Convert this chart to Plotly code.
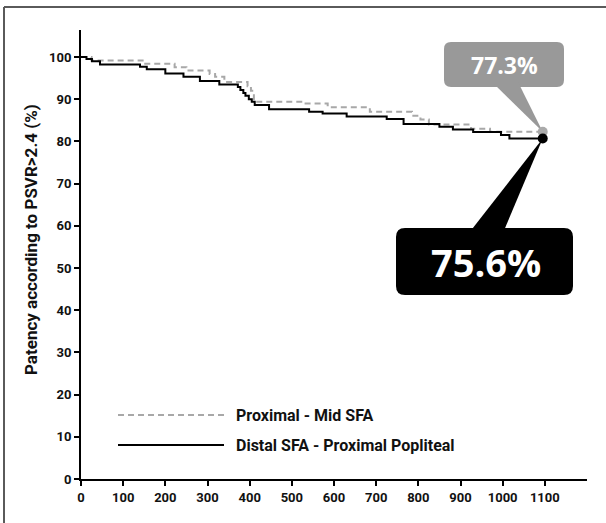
import plotly.graph_objects as go

# ---- data ----
distal_days = [0, 13, 26, 45, 140, 156, 200, 243, 282, 328, 372, 378, 385, 390, 398, 405,
               412, 446, 541, 573, 630, 725, 765, 850, 882, 930, 996, 1016, 1095]
distal_pct = [100, 99.5, 99.0, 98.2, 97.7, 97.1, 96.1, 95.3, 94.3, 93.5, 92.9, 92.2, 91.5, 90.8,
              90.0, 89.4, 88.6, 87.6, 87.0, 86.6, 85.9, 85.3, 84.1, 83.5, 82.8, 82.2, 81.5, 80.7, 80.7]

prox_days = [0, 25, 150, 222, 250, 305, 318, 340, 395, 403, 410, 418, 530, 585, 685, 785,
             805, 825, 925, 970, 1095]
prox_pct = [100, 99.2, 98.4, 97.6, 96.8, 96.0, 95.3, 94.1, 93.1, 92.0, 90.0, 89.4, 89.0, 88.1,
            87.0, 86.1, 85.2, 84.0, 83.0, 82.3, 82.3]

series_names = ["Proximal - Mid SFA", "Distal SFA - Proximal Popliteal"]
callout_labels = ["77.3%", "75.6%"]
x_ticks = list(range(0, 1101, 100))
y_ticks = list(range(0, 101, 10))
y_title = "Patency according to PSVR>2.4 (%)"

# ---- layout geometry ----
W, H = 606, 523
ML, MR, MT, MB = 81, 19, 30, 44
XR = [0, 1200]
YR = [0, 106.4]
pw, ph = W - ML - MR, H - MT - MB


def px2d(X, Y):
    x = XR[0] + (X - ML) / pw * (XR[1] - XR[0])
    y = YR[0] + (H - MB - Y) / ph * (YR[1] - YR[0])
    return x, y


def rrect(x0, y0, x1, y1, r):
    def P(X, Y):
        x, y = px2d(X, Y)
        return f"{x:.3f},{y:.3f}"
    return (f"M{P(x0 + r, y0)} L{P(x1 - r, y0)} Q{P(x1, y0)} {P(x1, y0 + r)} "
            f"L{P(x1, y1 - r)} Q{P(x1, y1)} {P(x1 - r, y1)} L{P(x0 + r, y1)} "
            f"Q{P(x0, y1)} {P(x0, y1 - r)} L{P(x0, y0 + r)} Q{P(x0, y0)} {P(x0 + r, y0)} Z")


def tri(Xa, Xb, Yb, xt, yt):
    a = px2d(Xa, Yb)
    b = px2d(Xb, Yb)
    return f"M{a[0]:.3f},{a[1]:.3f} L{b[0]:.3f},{b[1]:.3f} L{xt:.3f},{yt:.3f} Z"


GRAY = "#a8a8a8"
BOXGRAY = "#999999"
BLACK = "#000000"
TXT = "#111111"

fig = go.Figure()
fig.add_trace(go.Scatter(x=prox_days, y=prox_pct, mode="lines", line_shape="hv",
                         line=dict(color=GRAY, width=2, dash="6px,4px"),
                         name=series_names[0], hoverinfo="skip"))
fig.add_trace(go.Scatter(x=distal_days, y=distal_pct, mode="lines", line_shape="hv",
                         line=dict(color=BLACK, width=2),
                         name=series_names[1], hoverinfo="skip"))
# end points
fig.add_trace(go.Scatter(x=[prox_days[-1]], y=[prox_pct[-1]], mode="markers",
                         marker=dict(color="#aaaaaa", size=10), cliponaxis=False,
                         showlegend=False, hoverinfo="skip"))
fig.add_trace(go.Scatter(x=[distal_days[-1]], y=[distal_pct[-1]], mode="markers",
                         marker=dict(color=BLACK, size=10), cliponaxis=False,
                         showlegend=False, hoverinfo="skip"))

shapes = []
# gray callout
shapes.append(dict(type="path", path=rrect(444, 42, 564, 87, 7), fillcolor=BOXGRAY,
                   line=dict(width=0), layer="below", xref="x", yref="y"))
shapes.append(dict(type="path", path=tri(492, 518, 82, prox_days[-1], prox_pct[-1]),
                   fillcolor=BOXGRAY, line=dict(width=0), layer="below", xref="x", yref="y"))
# black callout
shapes.append(dict(type="path", path=rrect(396, 228, 573, 295, 9), fillcolor=BLACK,
                   line=dict(width=0), layer="below", xref="x", yref="y"))
shapes.append(dict(type="path", path=tri(469, 503, 233, distal_days[-1], distal_pct[-1]),
                   fillcolor=BLACK, line=dict(width=0), layer="below", xref="x", yref="y"))


def pp(X, Y):
    return (X - ML) / pw, (H - MB - Y) / ph

# legend lines
lx0, ly0 = pp(118, 415)
lx1, _ = pp(224, 415)
_, ly1 = pp(118, 445)
shapes.append(dict(type="line", xref="paper", yref="paper", x0=lx0, x1=lx1, y0=ly0, y1=ly0,
                   line=dict(color=GRAY, width=2, dash="6px,4px")))
shapes.append(dict(type="line", xref="paper", yref="paper", x0=lx0, x1=lx1, y0=ly1, y1=ly1,
                   line=dict(color=BLACK, width=2)))
# outer frame (top and left edges)
fx, fy = pp(4, 7)
fxr, _ = pp(610, 7)
_, fyb = pp(4, 530)
shapes.append(dict(type="line", xref="paper", yref="paper", x0=fx, x1=fxr, y0=fy, y1=fy,
                   line=dict(color="#5a5a5a", width=2)))
shapes.append(dict(type="line", xref="paper", yref="paper", x0=fx, x1=fx, y0=fy, y1=fyb,
                   line=dict(color="#5a5a5a", width=2)))

annotations = []
tx, _ = pp(234, 0)
annotations.append(dict(xref="paper", yref="paper", x=tx, y=ly0, text=series_names[0],
                        showarrow=False, xanchor="left", yanchor="middle",
                        font=dict(family="Roboto", size=16, color=TXT, weight="bold")))
annotations.append(dict(xref="paper", yref="paper", x=tx, y=ly1, text=series_names[1],
                        showarrow=False, xanchor="left", yanchor="middle",
                        font=dict(family="Roboto", size=16, color=TXT, weight="bold")))
cx, cy = px2d(504, 65)
annotations.append(dict(x=cx, y=cy, text=callout_labels[0], showarrow=False,
                        xanchor="center", yanchor="middle",
                        font=dict(family="Open Sans", size=23, color="white", weight="bold")))
cx, cy = px2d(486, 262)
annotations.append(dict(x=cx, y=cy, text=callout_labels[1], showarrow=False,
                        xanchor="center", yanchor="middle",
                        font=dict(family="Open Sans", size=38, color="white", weight="bold")))
ax, ay = pp(31, 240)
annotations.append(dict(xref="paper", yref="paper", x=ax, y=ay, text=y_title, textangle=-90,
                        showarrow=False, xanchor="center", yanchor="middle",
                        font=dict(family="Roboto", size=17, color=TXT, weight="bold")))

tickfont = dict(family="Roboto", size=13, color=TXT, weight="bold")
fig.update_layout(
    width=W, height=H,
    margin=dict(l=ML, r=MR, t=MT, b=MB, pad=0),
    paper_bgcolor="white", plot_bgcolor="white",
    showlegend=False,
    shapes=shapes, annotations=annotations,
    xaxis=dict(range=XR, tickvals=x_ticks, ticktext=[str(v) for v in x_ticks],
               showgrid=False, zeroline=False, showline=True, linecolor=BLACK, linewidth=2,
               ticks="outside", ticklen=5, tickwidth=1.5, tickcolor=BLACK, tickfont=tickfont,
               fixedrange=True),
    yaxis=dict(range=YR, tickvals=y_ticks, ticktext=[str(v) for v in y_ticks],
               showgrid=False, zeroline=False, showline=True, linecolor=BLACK, linewidth=2,
               ticks="outside", ticklen=5, tickwidth=1.5, tickcolor=BLACK, tickfont=tickfont,
               fixedrange=True),
)

fig.write_html("out.html", config={"displayModeBar": False},
               post_script="document.body.style.margin='0';document.body.style.overflow='hidden';")
